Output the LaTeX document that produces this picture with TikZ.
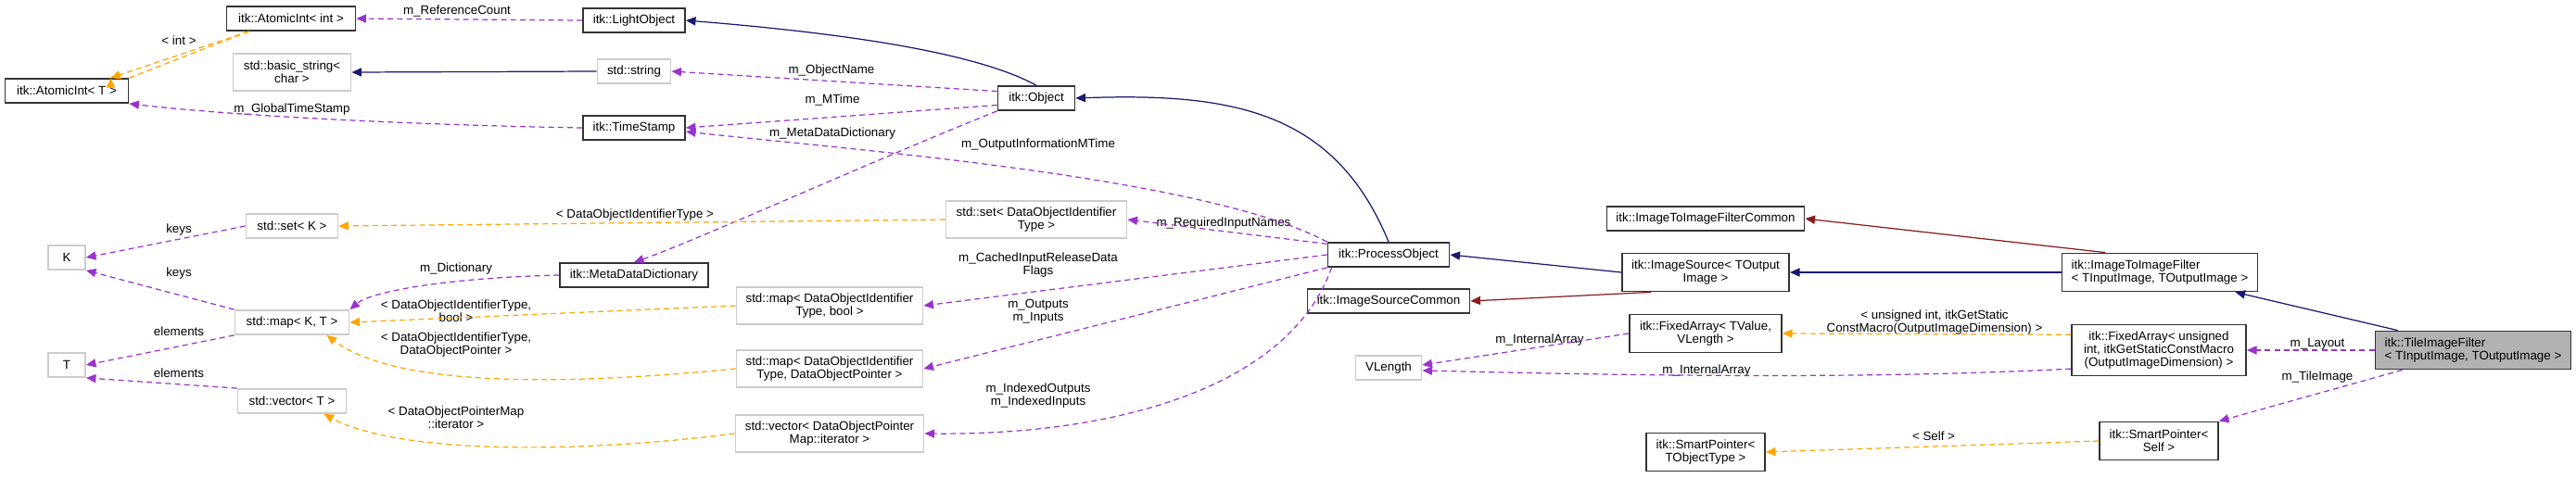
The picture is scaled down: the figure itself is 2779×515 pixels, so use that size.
\documentclass[tikz,border=0pt]{standalone}
\usepackage{fontspec}
\setmainfont{Liberation Sans}
\usepackage{tikz}
\usetikzlibrary{positioning,calc,arrows.meta}
\definecolor{usecol}{HTML}{9A32CD}
\definecolor{tplcol}{HTML}{FFA500}
\definecolor{inhcol}{HTML}{191970}
\definecolor{prvcol}{HTML}{8B1A1A}
\tikzset{
	cls/.style={draw=black!80,line width=0.5pt,inner sep=1pt,minimum height=0.26cm,align=center,font=\fontsize{3.8}{4.1}\selectfont},
	ext/.style={cls,draw=black!20},
	lbl/.style={inner sep=0pt,align=center,font=\fontsize{3.8}{4.1}\selectfont},
	tip/.style={-{Triangle[length=3pt,width=2.6pt]}},
	use/.style={tip,usecol,line width=0.35pt,dash pattern=on 1.7pt off 1.2pt},
	tpl/.style={tip,tplcol,line width=0.35pt,dash pattern=on 1.7pt off 1.2pt},
	inh/.style={tip,inhcol,line width=0.35pt},
	prv/.style={tip,prvcol,line width=0.35pt},
}
\begin{document}
\begin{tikzpicture}[x=0.01cm,y=-0.01cm]
		\useasboundingbox (0,0) rectangle (2779,515);
		% classes
		\node[cls,minimum width=1.39cm] (aint) at (314,20) {itk::AtomicInt< int >};
		\node[cls,minimum width=1.33cm] (at) at (72,98) {itk::AtomicInt< T >};
		\node[ext,minimum width=1.27cm,minimum height=0.4cm] (bstr) at (315,78) {std::basic\_string<\\char >};
		\node[ext,minimum width=0.4cm] (k) at (72,278) {K};
		\node[ext,minimum width=0.4cm] (t) at (72,394) {T};
		\node[ext,minimum width=0.99cm] (setk) at (315,244) {std::set< K >};
		\node[ext,minimum width=1.23cm] (mapkt) at (315,348) {std::map< K, T >};
		\node[ext,minimum width=1.17cm] (vect) at (315,433) {std::vector< T >};
		\node[cls,minimum width=1.1cm] (lobj) at (684,22) {itk::LightObject};
		\node[ext,minimum width=0.79cm] (str) at (684,77) {std::string};
		\node[cls,minimum width=1.1cm] (ts) at (684,138) {itk::TimeStamp};
		\node[cls,minimum width=1.6cm] (mdd) at (684,297) {itk::MetaDataDictionary};
		\node[cls,minimum width=0.83cm] (obj) at (1118,106) {itk::Object};
		\node[ext,minimum width=1.95cm,minimum height=0.4cm] (setid) at (1118,237) {std::set< DataObjectIdentifier\\Type >};
		\node[ext,minimum width=2.01cm,minimum height=0.4cm] (mapb) at (895,330) {std::map< DataObjectIdentifier\\Type, bool >};
		\node[ext,minimum width=2.01cm,minimum height=0.4cm] (mapp) at (895,398) {std::map< DataObjectIdentifier\\Type, DataObjectPointer >};
		\node[ext,minimum width=2.03cm,minimum height=0.4cm] (veci) at (895,468) {std::vector< DataObjectPointer\\Map::iterator >};
		\node[cls,minimum width=1.31cm] (po) at (1498,275) {itk::ProcessObject};
		\node[cls,minimum width=1.75cm] (isc) at (1498,325) {itk::ImageSourceCommon};
		\node[ext,minimum width=0.71cm] (vlen) at (1498,397) {VLength};
		\node[cls,minimum width=2.13cm] (iifc) at (1840,236) {itk::ImageToImageFilterCommon};
		\node[cls,minimum width=1.8cm,minimum height=0.41cm] (is) at (1840,294) {itk::ImageSource< TOutput\\Image >};
		\node[cls,minimum width=1.64cm,minimum height=0.41cm] (fat) at (1840,360) {itk::FixedArray< TValue,\\VLength >};
		\node[cls,minimum width=1.28cm,minimum height=0.41cm] (spt) at (1840,488) {itk::SmartPointer<\\TObjectType >};
		\node[cls,minimum width=2.11cm,minimum height=0.41cm,align=left] (iif) at (2330,294) {itk::ImageToImageFilter\\< TInputImage, TOutputImage >};
		\node[cls,minimum width=1.88cm,minimum height=0.55cm] (fau) at (2329,378) {itk::FixedArray< unsigned\\int, itkGetStaticConstMacro\\(OutputImageDimension) >};
		\node[cls,minimum width=1.28cm,minimum height=0.41cm] (sps) at (2329,476) {itk::SmartPointer<\\Self >};
		\node[cls,fill=black!30,minimum width=2.11cm,minimum height=0.41cm,align=left] (tif) at (2668,378) {itk::TileImageFilter\\< TInputImage, TOutputImage >};
		% labels
		\node[lbl] (lrc) at (493,12) {m\_ReferenceCount};
		\node[lbl] (lint) at (193,44) {< int >};
		\node[lbl] (lgts) at (315,118) {m\_GlobalTimeStamp};
		\node[lbl] (lkeys) at (193,248) {keys};
		\node[lbl] (lkeys2) at (193,295) {keys};
		\node[lbl] (lel) at (193,358) {elements};
		\node[lbl] (lel2) at (193,403) {elements};
		\node[lbl] (ldict) at (492,290) {m\_Dictionary};
		\node[lbl] (lmb) at (492,336) {< DataObjectIdentifierType,\\bool >};
		\node[lbl] (lmp) at (492,372) {< DataObjectIdentifierType,\\DataObjectPointer >};
		\node[lbl] (lvi) at (492,451) {< DataObjectPointerMap\\::iterator >};
		\node[lbl] (lsid) at (685,232) {< DataObjectIdentifierType >};
		\node[lbl] (lon) at (897,76) {m\_ObjectName};
		\node[lbl] (lmt) at (898,108) {m\_MTime};
		\node[lbl] (lmdd) at (898,144) {m\_MetaDataDictionary};
		\node[lbl] (loim) at (1120,156) {m\_OutputInformationMTime};
		\node[lbl] (lrin) at (1320,241) {m\_RequiredInputNames};
		\node[lbl] (lcir) at (1120,286) {m\_CachedInputReleaseData\\Flags};
		\node[lbl] (loi) at (1120,336) {m\_Outputs\\m\_Inputs};
		\node[lbl] (lioi) at (1120,427) {m\_IndexedOutputs\\m\_IndexedInputs};
		\node[lbl] (lia) at (1661,367) {m\_InternalArray};
		\node[lbl] (lia2) at (1841,400) {m\_InternalArray};
		\node[lbl] (luint) at (2087,348) {< unsigned int, itkGetStatic\\ConstMacro(OutputImageDimension) >};
		\node[lbl] (lself) at (2086,471) {< Self >};
		\node[lbl] (llay) at (2500,371) {m\_Layout};
		\node[lbl] (ltile) at (2500,407) {m\_TileImage};
		% connectors
		\draw[use] (lobj.west) -- (aint.east);
		\draw[tpl] (aint.south west) ++(25,0) coordinate (c1) (c1) -- (at.north east) ++(-20,0);
		\draw[tpl] (c1) -- ($(at.north east)+(-20,0)$);
		\draw[inh] (str.west) -- (bstr.east);
		\draw[use] (ts.west) .. controls (450,135) and (250,125) .. (at.south east);
		\draw[use] (obj.170) -- (str.east);
		\draw[use] (obj.190) -- (ts.east);
		\draw[inh] (obj.north) .. controls (1050,55) and (900,35) .. (lobj.east);
		\draw[use] (obj.south west) .. controls (950,170) and (750,260) .. (mdd.north);
		\draw[inh] (po.north) .. controls (1440,120) and (1330,100) .. (obj.east);
		\draw[use] (po.north west) .. controls (1300,190) and (900,160) .. ($(ts.east)+(0,4)$);
		\draw[use] (po.170) -- (setid.east);
		\draw[tpl] (setid.west) -- (setk.east);
		\draw[use] (mdd.west) .. controls (480,300) and (400,315) .. (mapkt.north east);
		\draw[use] (setk.west) -- (k.east);
		\draw[use] (mapkt.north west) -- (k.south east);
		\draw[use] (mapkt.south west) -- (t.east);
		\draw[use] (vect.north west) -- (t.south east);
		\draw[tpl] (mapb.west) -- (mapkt.east);
		\draw[tpl] (mapp.west) .. controls (620,415) and (430,420) .. ($(mapkt.south east)+(-25,0)$);
		\draw[tpl] (veci.west) .. controls (620,490) and (430,490) .. ($(vect.south east)+(-25,0)$);
		\draw[use] (po.west) -- (mapb.east);
		\draw[use] (po.south west) -- (mapp.east);
		\draw[use] ($(po.south west)+(5,0)$) .. controls (1390,420) and (1200,470) .. (veci.east);
		\draw[inh] (is.west) -- (po.east);
		\draw[prv] (is.200) -- (isc.east);
		\draw[prv] (iif.160) -- (iifc.east);
		\draw[inh] (iif.west) -- (is.east);
		\draw[inh] ($(tif.north west)+(25,0)$) -- ($(iif.south east)+(-25,0)$);
		\draw[use] (tif.west) -- (fau.east);
		\draw[use] ($(tif.south west)+(30,0)$) -- (sps.north east);
		\draw[tpl] (fau.170) -- (fat.east);
		\draw[use] (fau.192) .. controls (2000,410) and (1750,405) .. ($(vlen.east)+(0,3)$);
		\draw[use] (fat.west) -- ($(vlen.east)+(0,-3)$);
		\draw[tpl] (sps.west) -- (spt.east);
	\end{tikzpicture}
\end{document}
